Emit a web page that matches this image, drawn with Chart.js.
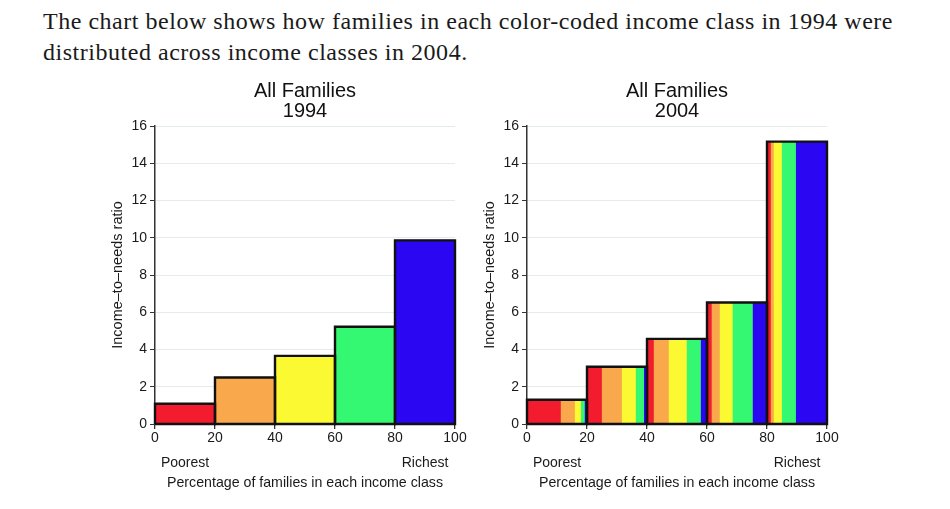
<!DOCTYPE html>
<html>
<head>
<meta charset="utf-8">
<script src="https://cdn.jsdelivr.net/npm/chart.js@4.4.1/dist/chart.umd.min.js"></script>
<style>
  html, body { margin: 0; padding: 0; background: #fff; width: 950px; height: 509px; overflow: hidden; }
  #intro { position: absolute; left: 43px; top: 6px; font-family: "Liberation Serif", serif; font-size: 24px;
           line-height: 31px; color: #1a1a1a; white-space: nowrap; }
  .wrap { position: absolute; top: 72px; height: 430px; }
  canvas { display: block; }
</style>
</head>
<body>
<div id="intro"><span id="l1">The chart below shows how families in each color-coded income class in 1994 were</span><br><span id="l2">distributed across income classes in 2004.</span></div>
<div class="wrap" style="left:90px;width:380px"><canvas id="c1" width="380" height="430" style="width:380px;height:430px"></canvas></div>
<div class="wrap" style="left:470px;width:372px"><canvas id="c2" width="372" height="430" style="width:372px;height:430px"></canvas></div>
<script>
// ---------- data ----------
const quintileEdges = [0, 20, 40, 60, 80, 100];           // percentage of families
const xTickValues = [0, 10, 20, 30, 40, 50, 60, 70, 80, 90, 100];
const xTickLabels = ['0', ['', 'Poorest'], '20', '', '40', '', '60', '', '80', ['', 'Richest'], '100'];
const yTickValues = [0, 2, 4, 6, 8, 10, 12, 14, 16];
const classColors = ['#f21c2e', '#f9a94b', '#fbf932', '#34f872', '#2a06f2'];
const ratio1994 = [1.09, 2.50, 3.66, 5.22, 9.86];          // income-to-needs ratio by 1994 class
const ratio2004 = [1.30, 3.07, 4.57, 6.52, 15.16];         // income-to-needs ratio by 2004 class
// share (%) of each 2004 class coming from each 1994 class
const fromPoorest = [55, 23.5, 10, 6.5, 5];
const fromSecond  = [23.5, 33.5, 25, 13.5, 5];
const fromMiddle  = [10, 23, 30, 21.5, 13.5];
const fromFourth  = [6.5, 14, 23.5, 33.5, 23.5];
const fromRichest = [5, 6, 11.5, 25, 53];
const originShares = [fromPoorest, fromSecond, fromMiddle, fromFourth, fromRichest];

// ---------- heading fit ----------
(function () {
  const l1 = document.getElementById('l1');
  const w = l1.getBoundingClientRect().width;
  const n = l1.textContent.length;
  const ls = (850 - w) / n;
  document.getElementById('intro').style.letterSpacing = ls.toFixed(3) + 'px';
})();

// ---------- helpers ----------
const FONT = 'Liberation Sans';
const INK = '#1a1a1a';

function fillSet(a, b, h, color) {
  return {
    type: 'line',
    data: [{x: a, y: 0}, {x: a, y: h}, {x: b, y: h}, {x: b, y: 0}],
    fill: 'origin', backgroundColor: color, borderColor: color, borderWidth: 0.8,
    pointRadius: 0, order: 2, clip: false, tension: 0
  };
}
function outlineSet(a, b, h) {
  return {
    type: 'line',
    data: [{x: a, y: 0}, {x: a, y: h}, {x: b, y: h}, {x: b, y: 0}, {x: a, y: 0}],
    fill: false, borderColor: '#111', borderWidth: 2.4, borderJoinStyle: 'miter',
    pointRadius: 0, order: 0, clip: false, tension: 0
  };
}

function makeChart(id, year, datasets, yWidth, yTitlePad) {
  return new Chart(document.getElementById(id), {
    type: 'line',
    data: { datasets },
    options: {
      responsive: false, animation: false,
      layout: { padding: { left: 0, right: 15, top: 0, bottom: 0 } },
      plugins: {
        legend: { display: false }, tooltip: { enabled: false },
        title: { display: true, fullSize: false, text: ['All Families', year], color: '#111',
                 font: { family: FONT, size: 20, weight: 'normal', lineHeight: '20px' },
                 padding: { top: 9, bottom: 5 } }
      },
      scales: {
        x: {
          type: 'linear', min: 0, max: 100,
          afterBuildTicks: s => { s.ticks = xTickValues.map(v => ({ value: v })); },
          afterFit: s => { s.height = 78; },
          ticks: { autoSkip: false, maxRotation: 0, minRotation: 0, padding: -3.5, color: INK,
                   font: { family: FONT, size: 14, lineHeight: '25px' },
                   callback: (v) => xTickLabels[xTickValues.indexOf(v)] },
          grid: { drawOnChartArea: false, drawTicks: true, tickLength: 5, lineWidth: 1.3,
                  color: 'rgba(0,0,0,0)',
                  tickColor: ctx => (ctx.tick && ctx.tick.value % 20 === 0) ? '#333' : 'rgba(0,0,0,0)' },
          border: { display: true, color: '#333', width: 1.5 },
          title: { display: true, text: 'Percentage of families in each income class', color: INK,
                   font: { family: FONT, size: 14.2 }, padding: { top: 0, bottom: 10 } }
        },
        y: {
          type: 'linear', min: 0, max: 16,
          afterBuildTicks: s => { s.ticks = yTickValues.map(v => ({ value: v })); },
          afterFit: s => { s.width = yWidth; },
          ticks: { padding: 3, color: INK, font: { family: FONT, size: 14 } },
          grid: { color: '#e4ebef', lineWidth: 1, tickColor: '#333', tickLength: 5, drawTicks: true },
          border: { display: true, color: '#333', width: 1.5 },
          title: { display: true, text: 'Income–to–needs ratio', color: INK,
                   font: { family: FONT, size: 14.5 }, padding: { top: yTitlePad, bottom: 0 } }
        }
      }
    }
  });
}

// ---------- 1994 chart ----------
const sets1994 = [];
ratio1994.forEach((h, i) => {
  sets1994.push(fillSet(quintileEdges[i], quintileEdges[i + 1], h, classColors[i]));
  sets1994.push(outlineSet(quintileEdges[i], quintileEdges[i + 1], h));
});
makeChart('c1', '1994', sets1994, 65, 19);

// ---------- 2004 chart ----------
const sets2004 = [];
ratio2004.forEach((h, i) => {
  const a = quintileEdges[i], b = quintileEdges[i + 1];
  let cum = 0;
  originShares.forEach((shares, k) => {
    const s0 = a + (b - a) * cum / 100;
    cum += shares[i];
    const s1 = a + (b - a) * cum / 100;
    sets2004.push(fillSet(s0, s1, h, classColors[k]));
  });
  sets2004.push(outlineSet(a, b, h));
});
makeChart('c2', '2004', sets2004, 57, 11);
</script>
</body>
</html>
